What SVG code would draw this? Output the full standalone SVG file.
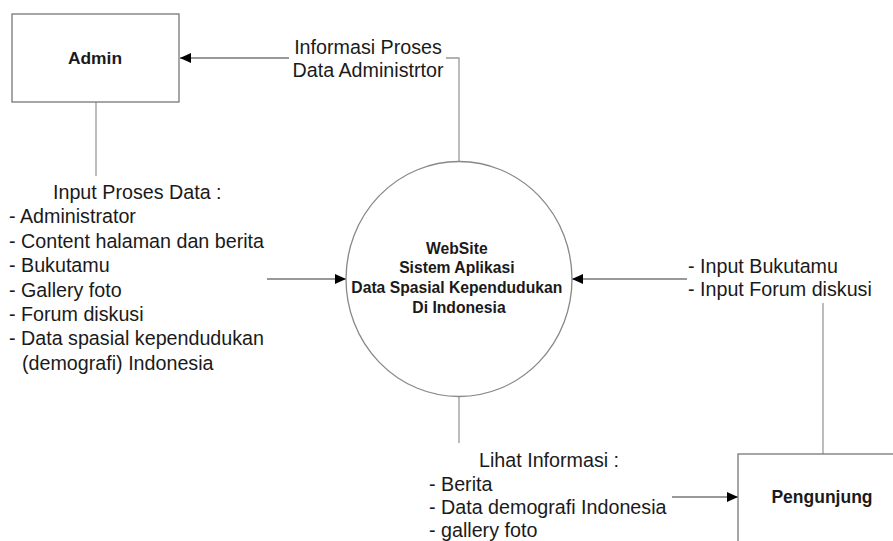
<svg xmlns="http://www.w3.org/2000/svg" width="893" height="541" viewBox="0 0 893 541">
<style>
.lbl{font-family:"Liberation Sans",Arial,sans-serif;font-size:19.7px;fill:#1a1a1a}
.node{font-family:"Liberation Sans",Arial,sans-serif;font-weight:bold;fill:#1a1a1a}
.box{fill:#fff;stroke:#777;stroke-width:1.3}
.conn{fill:none;stroke:#999;stroke-width:1.3}
.arr{fill:none;stroke:#777;stroke-width:1.3;marker-end:url(#ah)}
</style>
<defs>
<marker id="ah" markerUnits="userSpaceOnUse" markerWidth="12" markerHeight="10" refX="11" refY="5" orient="auto">
<path d="M0,0 L11,5 L0,10 Z" fill="#000"/>
</marker>
</defs>
<rect width="893" height="541" fill="#fff"/>
<g id="connectors">
<path class="arr" d="M289,58 L180,58"/>
<path class="conn" d="M446,58 L459,58 L459,162"/>
<path class="conn" d="M96,102 L96,176"/>
<path class="arr" d="M267,279 L346,279"/>
<path class="arr" d="M687,279 L572,279"/>
<path class="conn" d="M823,303 L823,454"/>
<path class="conn" d="M459,397 L459,443"/>
<path class="arr" d="M672,497 L738,497"/>
</g>
<g id="admin">
<rect class="box" x="12" y="14" width="167" height="88"/>
<text class="node" x="95" y="64" font-size="17.4" text-anchor="middle">Admin</text>
</g>
<g id="website">
<ellipse cx="459" cy="279" rx="113" ry="117.5" fill="#fff" stroke="#888" stroke-width="1.3"/>
<text class="node" font-size="15.7" text-anchor="middle">
<tspan x="459" y="253.5">WebSite</tspan>
<tspan x="459" y="273.2">Sistem Aplikasi</tspan>
<tspan x="459" y="292.9">Data Spasial Kependudukan</tspan>
<tspan x="459" y="312.6">Di Indonesia</tspan>
</text>
</g>
<g id="pengunjung">
<rect class="box" x="738" y="454" width="170" height="100"/>
<text class="node" x="822" y="503" font-size="17.5" text-anchor="middle">Pengunjung</text>
</g>
<g id="labels">
<text class="lbl" text-anchor="middle"><tspan x="368" y="53.5">Informasi Proses</tspan><tspan x="368" y="77">Data Administrtor</tspan></text>
<text class="lbl">
<tspan x="53" y="199">Input Proses Data :</tspan>
<tspan x="9" y="223.4">- Administrator</tspan>
<tspan x="9" y="247.8">- Content halaman dan berita</tspan>
<tspan x="9" y="272.2">- Bukutamu</tspan>
<tspan x="9" y="296.6">- Gallery foto</tspan>
<tspan x="9" y="321">- Forum diskusi</tspan>
<tspan x="9" y="345.4">- Data spasial kependudukan</tspan>
<tspan x="22" y="369.8">(demografi) Indonesia</tspan>
</text>
<text class="lbl"><tspan x="688" y="273">- Input Bukutamu</tspan><tspan x="688" y="296">- Input Forum diskusi</tspan></text>
<text class="lbl">
<tspan x="479" y="467">Lihat Informasi :</tspan>
<tspan x="429" y="490.5">- Berita</tspan>
<tspan x="429" y="514">- Data demografi Indonesia</tspan>
<tspan x="429" y="536.5">- gallery foto</tspan>
</text>
</g>
</svg>
